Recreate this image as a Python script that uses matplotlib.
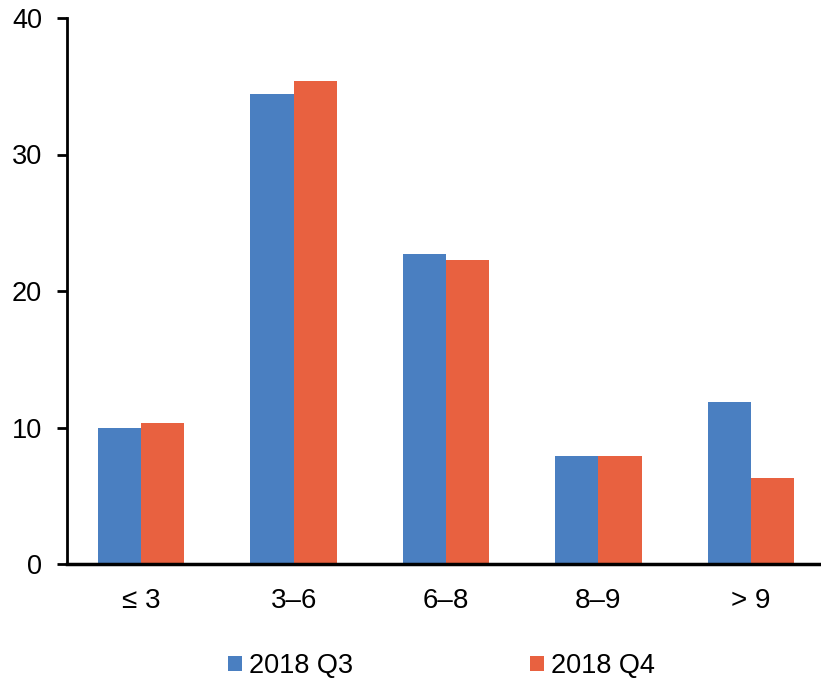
import matplotlib
matplotlib.use("Agg")
import matplotlib.pyplot as plt
import numpy as np

categories = ["≤ 3", "3–6", "6–8", "8–9", "> 9"]
q3 = [10.0, 34.4, 22.7, 7.9, 11.9]
q4 = [10.3, 35.4, 22.3, 7.9, 6.3]
series_names = ["2018 Q3", "2018 Q4"]
yticks = [0, 10, 20, 30, 40]

plt.rcParams['font.family'] = ['Liberation Sans', 'DejaVu Sans']

W, H = 821, 679
fig = plt.figure(figsize=(W/100, H/100), dpi=100)
ax = fig.add_axes([67/W, 1 - 564/H, 760/W, (564 - 18)/H])

x = np.arange(len(categories))
bw = 0.283
c1, c2 = "#4A7FC1", "#E86140"
b1 = ax.bar(x - bw/2, q3, bw, color=c1, label=series_names[0])
b2 = ax.bar(x + bw/2, q4, bw, color=c2, label=series_names[1])

ax.set_xlim(-0.487, 4.5)
ax.set_ylim(0, 40)
ax.set_yticks(yticks)
ax.set_yticklabels([str(v) for v in yticks], fontsize=19.5)
ax.set_xticks(x)
ax.set_xticklabels(categories, fontsize=20)
ax.tick_params(axis='x', length=0, pad=17)
ax.tick_params(axis='y', length=7.2, width=2, direction='out', pad=10.8)
for s in ['top', 'right']:
    ax.spines[s].set_visible(False)
ax.spines['left'].set_linewidth(2)
ax.spines['bottom'].set_linewidth(2.5)
ax.spines['bottom'].set_zorder(5)

for handle, name, xpos in [(b1, series_names[0], 228), (b2, series_names[1], 530)]:
    lg = fig.legend(handles=[handle], labels=[name], loc='center left',
                    bbox_to_anchor=(xpos / W, 1 - 666 / H), frameon=False,
                    fontsize=19.5, handlelength=0.52, handleheight=0.52,
                    handletextpad=0.26, borderpad=0, borderaxespad=0)

fig.savefig("out.png", dpi=100)
